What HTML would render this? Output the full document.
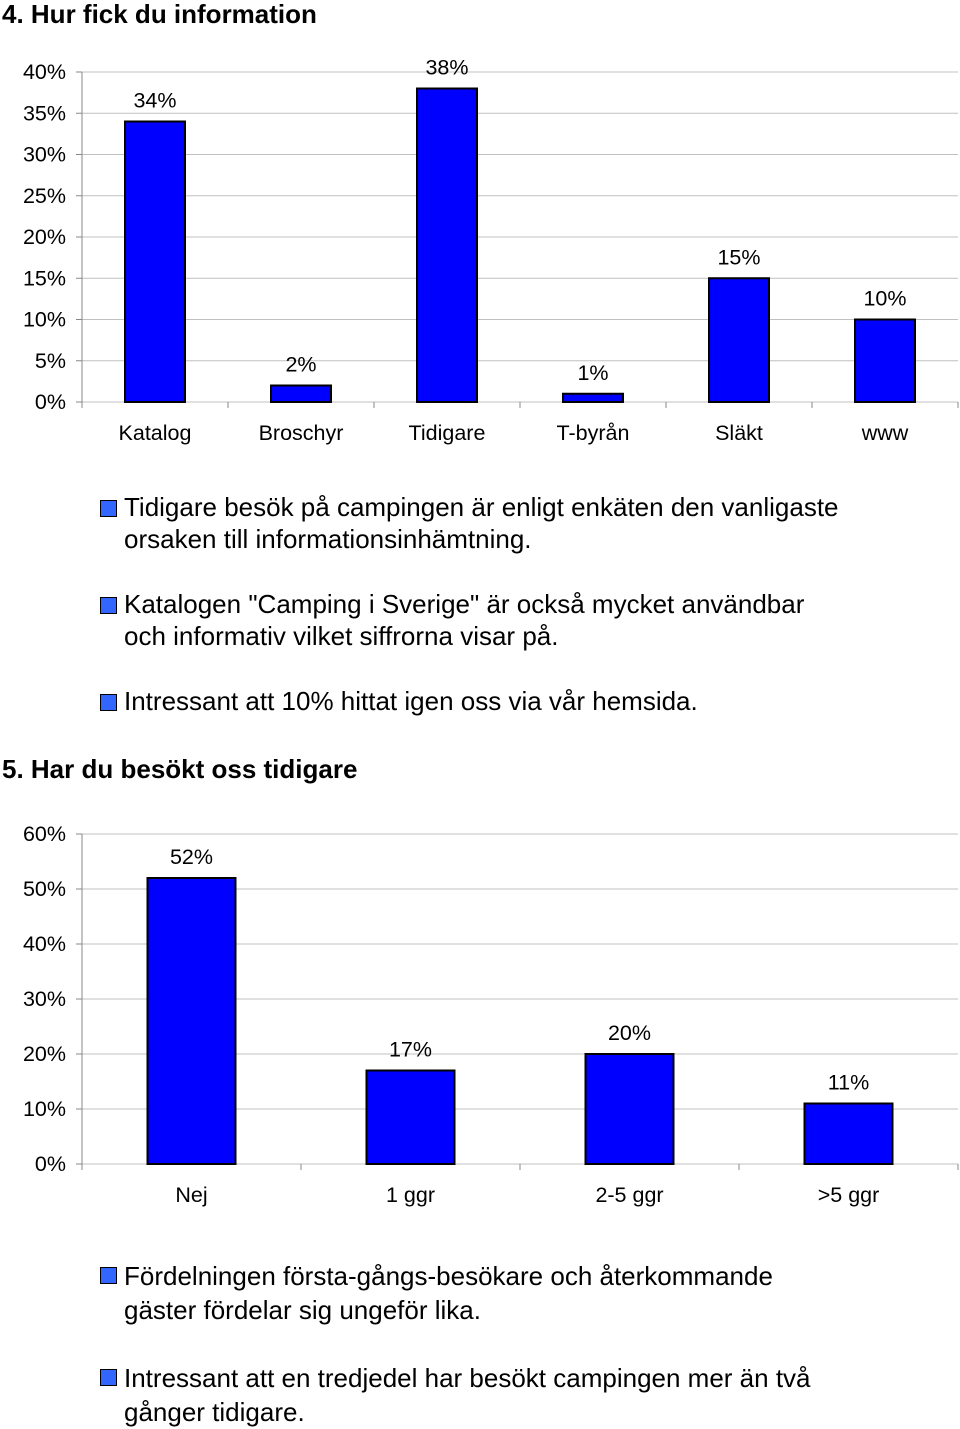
<!DOCTYPE html>
<html><head><meta charset="utf-8"><style>
body{margin:0;width:960px;height:1427px;background:#fff;font-family:"Liberation Sans",sans-serif;position:relative;overflow:hidden}
.t{position:absolute;left:2px;font-weight:bold;font-size:26px;color:#000}
.p{position:absolute;left:124px;font-size:26px;line-height:32px;color:#000;white-space:nowrap}
.b{position:absolute;left:100px;width:15px;height:15px;background:#3366ff;border:1px solid #000}
svg{position:absolute;left:0;top:0}
</style></head><body>
<div class="t" style="top:-1px">4. Hur fick du information</div>
<svg id="c1" width="960" height="460"></svg>
<div class="b" style="top:500px"></div>
<div class="p" style="top:491px">Tidigare besök på campingen är enligt enkäten den vanligaste<br>orsaken till informationsinhämtning.</div>
<div class="b" style="top:597px"></div>
<div class="p" style="top:588px">Katalogen "Camping i Sverige" är också mycket användbar<br>och informativ vilket siffrorna visar på.</div>
<div class="b" style="top:694px"></div>
<div class="p" style="top:685px">Intressant att 10% hittat igen oss via vår hemsida.</div>
<div class="t" style="top:754px">5. Har du besökt oss tidigare</div>
<svg id="c2" width="960" height="1230"></svg>
<div class="b" style="top:1267px"></div>
<div class="p" style="top:1259px;line-height:34px">Fördelningen första-gångs-besökare och återkommande<br>gäster fördelar sig ungeför lika.</div>
<div class="b" style="top:1369px"></div>
<div class="p" style="top:1361px;line-height:34px">Intressant att en tredjedel har besökt campingen mer än två<br>gånger tidigare.</div>
<script>
const cats1=["Katalog","Broschyr","Tidigare","T-byrån","Släkt","www"];
const vals1=[34,2,38,1,15,10];
const ticks1=[0,5,10,15,20,25,30,35,40];
const cats2=["Nej","1 ggr","2-5 ggr",">5 ggr"];
const vals2=[52,17,20,11];
const ticks2=[0,10,20,30,40,50,60];
const NS="http://www.w3.org/2000/svg";
function mk(svg,tag,a){const e=document.createElementNS(NS,tag);for(const k in a)e.setAttribute(k,a[k]);svg.appendChild(e);return e;}
function draw(id,cats,vals,ticks,y0,y1,maxV,bw,catY){
 const svg=document.getElementById(id);
 const x0=82,x1=958;
 const ys=v=>y0-(v/maxV)*(y0-y1);
 const step=(x1-x0)/cats.length;
 const xc=i=>x0+step*(i+0.5);
 ticks.forEach(t=>{
  const g=mk(svg,'line',{x1:x0,x2:x1,y1:ys(t),y2:ys(t),stroke:'#c0c0c0','stroke-width':1});
  
  
  mk(svg,'line',{x1:76,x2:x0,y1:ys(t),y2:ys(t),stroke:'#888'});
  const tx=mk(svg,'text',{x:66,y:ys(t)+7,'text-anchor':'end','font-size':21.5,'font-family':'Liberation Sans'});
  tx.textContent=t+'%';
  
  
 });
 mk(svg,'line',{x1:x0,x2:x0,y1:y1,y2:y0+6,stroke:'#888'});
 for(let i=0;i<=cats.length;i++)mk(svg,'line',{x1:x0+step*i,x2:x0+step*i,y1:y0,y2:y0+6,stroke:'#888'});
 cats.forEach((c,i)=>{
  const r=mk(svg,'rect',{x:xc(i)-bw/2,y:ys(vals[i]),width:bw,height:y0-ys(vals[i]),fill:'#0000ff',stroke:'#000','stroke-width':2});
  
  
  const v=mk(svg,'text',{x:xc(i),y:ys(vals[i])-14,'text-anchor':'middle','font-size':21.5,'font-family':'Liberation Sans'});
  v.textContent=vals[i]+'%';
  
  
  const l=mk(svg,'text',{x:xc(i),y:catY,'text-anchor':'middle','font-size':21.5,'font-family':'Liberation Sans'});
  l.textContent=c;
  
  
 });
}
draw('c1',cats1,vals1,ticks1,402,72,40,60,440);
draw('c2',cats2,vals2,ticks2,1164,834,60,88,1202);
</script>
</body></html>
